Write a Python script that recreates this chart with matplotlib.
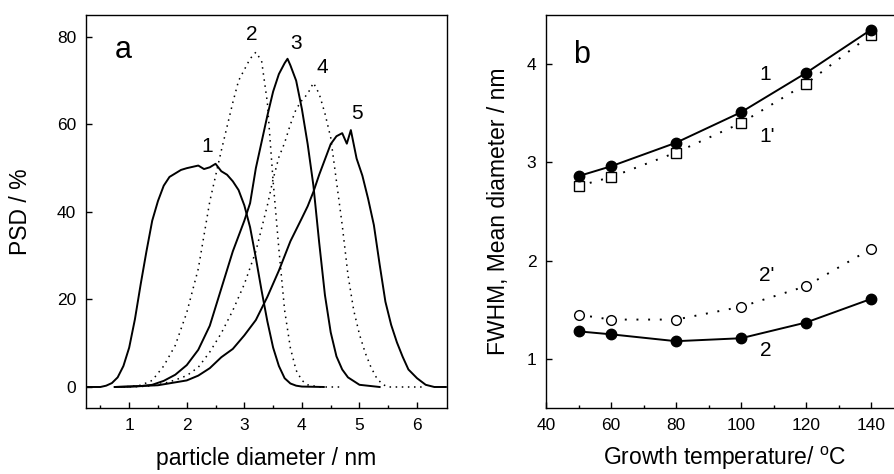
import matplotlib.pyplot as plt

plt.rcParams["font.family"] = ["Liberation Sans", "DejaVu Sans"]

# ---- panel a: particle size distributions ----
x1 = [0.25, 0.5, 0.6, 0.7, 0.8, 0.9, 1.0, 1.1, 1.2, 1.3, 1.4, 1.5, 1.6, 1.7, 1.8, 1.9,
      2.0, 2.1, 2.2, 2.3, 2.4, 2.5, 2.6, 2.7, 2.8, 2.9, 3.0, 3.1, 3.2, 3.3, 3.4, 3.5,
      3.6, 3.7, 3.8, 3.9, 4.0, 4.38]
y1 = [0, 0, 0.3, 0.9, 2.2, 4.8, 9, 15.5, 23.5, 31, 38, 42.5, 46, 48, 48.8, 49.6,
      50, 50.3, 50.6, 49.8, 50.2, 51, 49.3, 48.5, 47, 45, 41.5, 36.5, 29.5, 22, 15, 9,
      4.8, 2.0, 0.8, 0.3, 0.1, 0]

x2 = [0.75, 1.0, 1.2, 1.4, 1.6, 1.8, 2.0, 2.2, 2.4, 2.6, 2.8, 2.9, 3.0, 3.1, 3.2,
      3.3, 3.4, 3.5, 3.6, 3.7, 3.8, 3.9, 4.0, 4.1, 4.3, 4.7]
y2 = [0, 0.1, 0.4, 1.5, 4.8, 9.5, 17, 27, 42.4, 54, 65, 70, 72.5, 75, 76.5,
      74.5, 65, 47, 31.5, 17.5, 8.9, 3.8, 1.5, 0.5, 0, 0]

x3 = [0.75, 1.0, 1.2, 1.4, 1.6, 1.8, 2.0, 2.2, 2.4, 2.6, 2.8, 3.0, 3.1, 3.2, 3.3, 3.4,
      3.5, 3.6, 3.7, 3.75, 3.8, 3.9, 4.0, 4.1, 4.2, 4.3, 4.4, 4.5, 4.6, 4.7, 4.8, 5.0, 5.35]
y3 = [0, 0.1, 0.2, 0.5, 1.4, 2.8, 5, 8.5, 14, 22.5, 31, 38, 42, 50, 56, 62,
      67.5, 71.5, 74, 75, 73.5, 70, 63.5, 55.5, 46, 33, 21, 12.5, 7, 4, 2.2, 0.5, 0]

x4 = [0.9, 1.2, 1.4, 1.6, 1.8, 2.0, 2.2, 2.4, 2.6, 2.8, 3.0, 3.2, 3.4, 3.5, 3.6, 3.7,
      3.8, 3.9, 4.0, 4.1, 4.2, 4.3, 4.4, 4.5, 4.6, 4.7, 4.8, 4.9, 5.0, 5.1, 5.2, 5.3,
      5.4, 5.5, 6.1]
y4 = [0, 0.1, 0.3, 0.8, 1.6, 2.6, 4.5, 8, 12.3, 17.5, 23.5, 31, 41.5, 47.5, 52.5, 55.8,
      60, 63.5, 65.5, 67, 69.5, 67, 62.5, 57, 47, 37, 25.6, 17.5, 12, 7.8, 4.5, 2,
      0.6, 0, 0]

x5 = [0.75, 1.0, 1.5, 2.0, 2.2, 2.4, 2.6, 2.8, 3.0, 3.2, 3.4, 3.6, 3.8, 4.0, 4.1, 4.2,
      4.3, 4.4, 4.5, 4.6, 4.7, 4.78, 4.85, 4.95, 5.05, 5.15, 5.25, 5.35, 5.45, 5.55,
      5.65, 5.75, 5.85, 6.0, 6.15, 6.3, 6.5]
y5 = [0, 0.1, 0.4, 1.5, 2.6, 4.3, 6.8, 8.7, 11.8, 15.3, 20.6, 26.6, 33.3, 38.6, 41.3, 44.6,
      48.5, 52, 55.5, 57.3, 58, 55.6, 58.7, 52.2, 48.3, 43, 37, 28, 19.5, 14.2,
      10.2, 6.9, 4, 2, 0.5, 0, 0]

psd_curves = [(x1, y1, "-"), (x2, y2, ":"), (x3, y3, "-"), (x4, y4, ":"), (x5, y5, "-")]
psd_labels = ["1", "2", "3", "4", "5"]
psd_label_xy = [(2.35, 55), (3.13, 80.5), (3.9, 78.5), (4.36, 73), (4.96, 62.5)]

# ---- panel b: FWHM and mean diameter vs growth temperature ----
temps = [50, 60, 80, 100, 120, 140]
mean_d = [2.86, 2.96, 3.20, 3.51, 3.91, 4.35]      # 1
mean_d_p = [2.76, 2.85, 3.10, 3.40, 3.80, 4.30]    # 1'
fwhm = [1.28, 1.25, 1.18, 1.21, 1.37, 1.61]        # 2
fwhm_p = [1.45, 1.40, 1.40, 1.53, 1.74, 2.12]      # 2'

fig = plt.figure(figsize=(8.94, 4.74), dpi=100)
ax_a = fig.add_axes([86 / 894, 66 / 474, 361 / 894, 393 / 474])
ax_b = fig.add_axes([546 / 894, 66 / 474, 357.5 / 894, 393 / 474])

for ax in (ax_a, ax_b):
    for s in ax.spines.values():
        s.set_linewidth(1.0)
    ax.tick_params(which="both", direction="in", labelsize=12.5, width=1.0,
                   top=False, right=False, pad=7)
    ax.tick_params(which="major", length=4)
    ax.tick_params(which="minor", length=2.5)

# panel a
dotted = (0, (1, 3))
for (xs, ys, ls) in psd_curves:
    if ls == "-":
        ax_a.plot(xs, ys, color="black", lw=1.4)
    else:
        ax_a.plot(xs, ys, color="black", lw=1.1, linestyle=dotted)
for lab, (lx, ly) in zip(psd_labels, psd_label_xy):
    ax_a.text(lx, ly, lab, fontsize=15, ha="center", va="center")
ax_a.text(0.9, 77, "a", fontsize=22, ha="center", va="center")
ax_a.set_xlim(0.25, 6.52)
ax_a.set_ylim(-4.8, 85)
ax_a.set_xticks([1, 2, 3, 4, 5, 6])
ax_a.set_xticks([0.5, 1.5, 2.5, 3.5, 4.5, 5.5], minor=True)
ax_a.set_yticks([0, 20, 40, 60, 80])
ax_a.set_xlabel("particle diameter / nm", fontsize=16.5, labelpad=10)
ax_a.set_ylabel("PSD / %", fontsize=16.5, labelpad=18)

# panel b
ax_b.plot(temps, mean_d, "-o", color="black", lw=1.4, ms=7.5, zorder=3)
ax_b.plot(temps, mean_d_p, linestyle=(0, (1, 5)), marker="s", color="black", lw=1.4,
          ms=6.5, mfc="white", mew=1.0, zorder=2)
ax_b.plot(temps, fwhm, "-o", color="black", lw=1.4, ms=7.5, zorder=3)
ax_b.plot(temps, fwhm_p, linestyle=(0, (1, 5)), marker="o", color="black", lw=1.4,
          ms=7, mfc="white", mew=1.0, zorder=2)
ax_b.text(107.5, 3.89, "1", fontsize=15, ha="center", va="center")
ax_b.text(108, 3.26, "1'", fontsize=15, ha="center", va="center")
ax_b.text(108, 1.85, "2'", fontsize=15, ha="center", va="center")
ax_b.text(107.5, 1.09, "2", fontsize=15, ha="center", va="center")
ax_b.text(51, 4.09, "b", fontsize=22, ha="center", va="center")
ax_b.set_xlim(40, 150)
ax_b.set_ylim(0.5, 4.5)
ax_b.set_xticks([40, 60, 80, 100, 120, 140])
ax_b.set_xticks([50, 70, 90, 110, 130], minor=True)
ax_b.set_yticks([1, 2, 3, 4])
ax_b.set_xlabel("Growth temperature/ $^{\\mathregular{o}}$C", fontsize=16.5, labelpad=9)
ax_b.set_ylabel("FWHM, Mean diameter / nm", fontsize=16.5, labelpad=12)

fig.savefig("out.png", dpi=100)
